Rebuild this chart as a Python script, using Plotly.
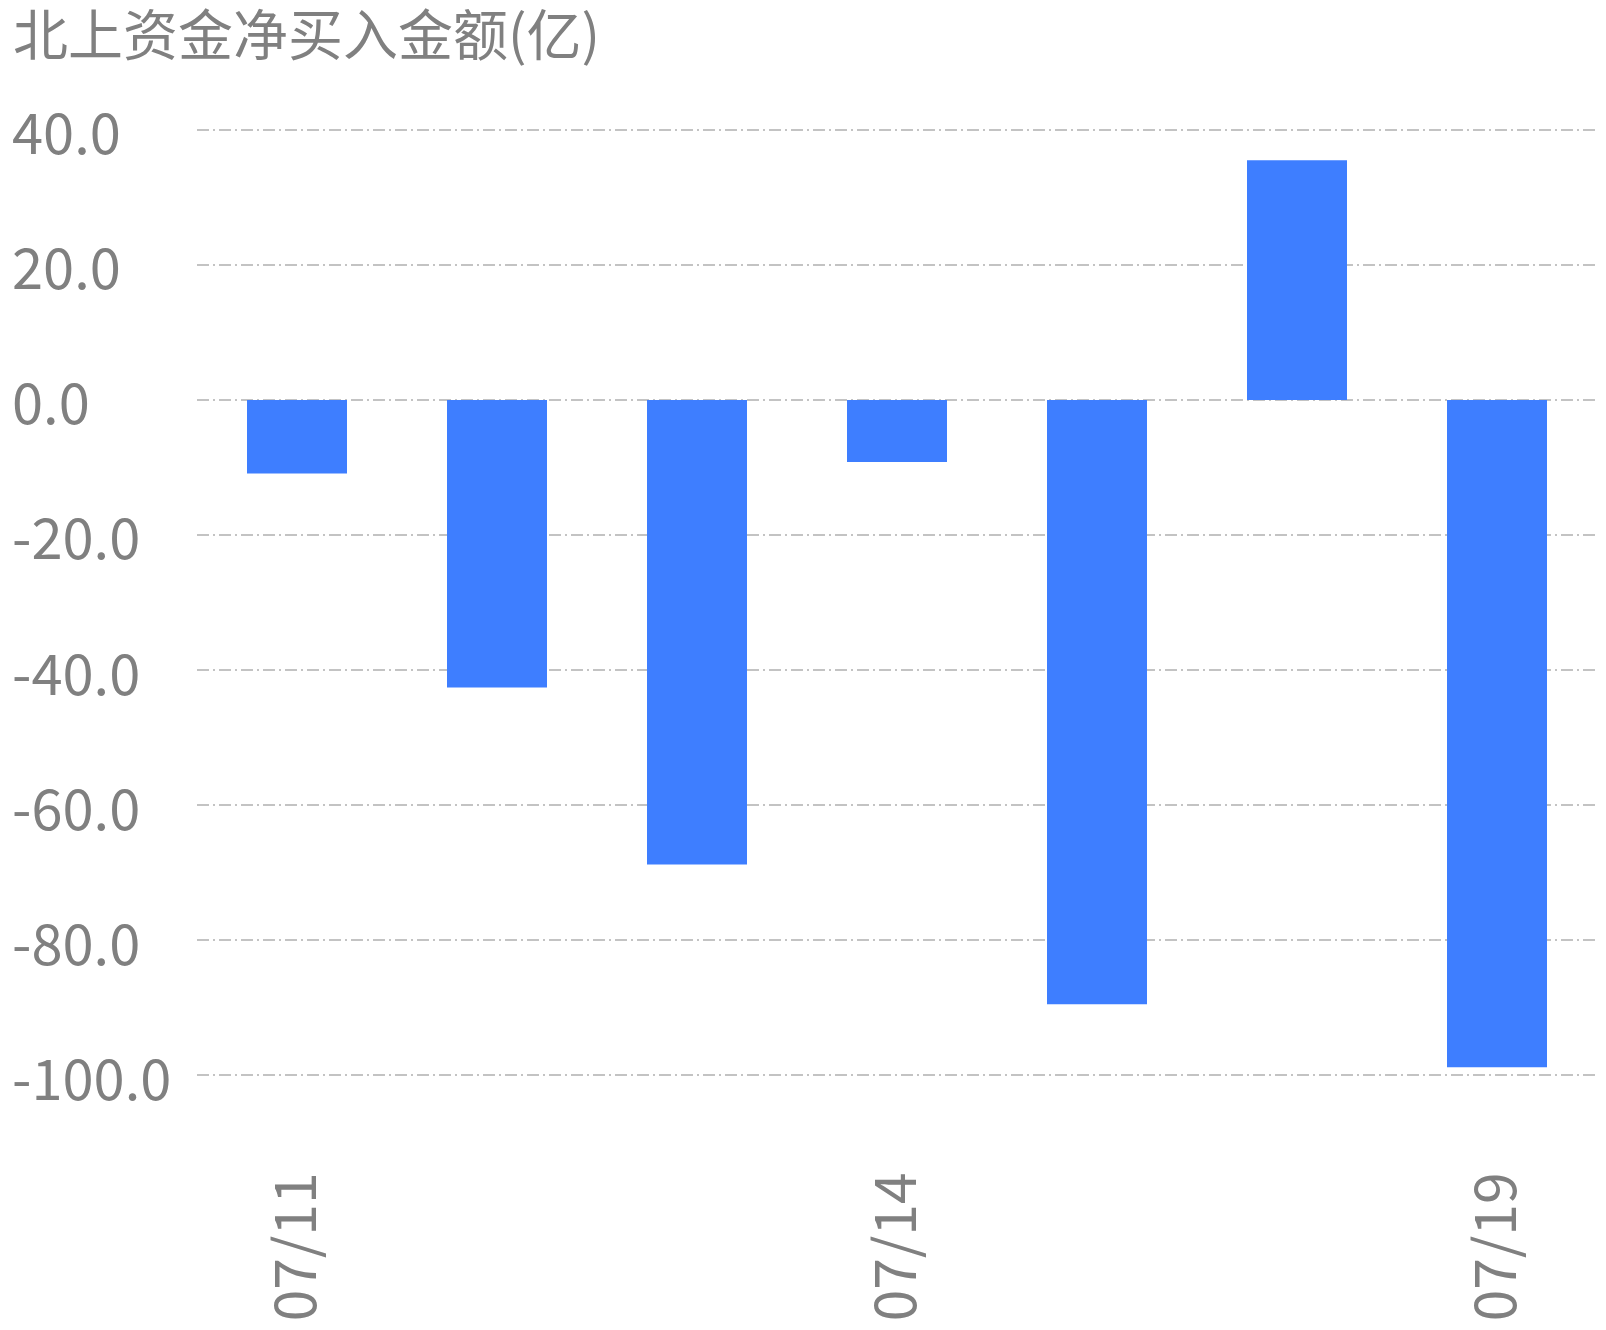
import plotly.graph_objects as go

dates = ['07/11', '07/12', '07/13', '07/14', '07/15', '07/18', '07/19']
net_buy = [-10.9, -42.6, -68.8, -9.2, -89.5, 35.5, -98.8]

shown_dates = ['07/11', '07/14', '07/19']
y_ticks = [40, 20, 0, -20, -40, -60, -80, -100]

font_family = 'Noto Sans CJK SC'
text_color = '#808080'

fig = go.Figure(go.Bar(
    x=dates,
    y=net_buy,
    marker_color='#3e7eff',
    marker_line_width=0,
))

# left-aligned y labels like the original
for v in y_ticks:
    fig.add_annotation(
        x=-0.1336, xref='paper', xanchor='left',
        y=v, yref='y', yanchor='middle',
        text=f'{v:.1f}', showarrow=False,
        font=dict(family=font_family, size=56, color=text_color),
    )

# page body adds an 8px margin, so the figure is kept inside the window
fig.update_layout(
    width=1590, height=1314,
    margin=dict(l=189, r=1, t=115, b=233),
    paper_bgcolor='white', plot_bgcolor='white',
    bargap=0.5,
    showlegend=False,
    title=dict(
        text='北上资金净买入金额(亿)',
        x=5 / 1590, xanchor='left', xref='container',
        y=1 - 28 / 1314, yanchor='middle', yref='container',
        font=dict(family=font_family, size=55, color=text_color),
    ),
    font=dict(family=font_family, color=text_color),
)

fig.update_xaxes(
    type='category',
    tickmode='array', tickvals=shown_dates, ticktext=shown_dates,
    tickangle=-90, ticks='', showgrid=False, showline=False, zeroline=False,
    ticklabelstandoff=78,
    tickfont=dict(family=font_family, size=57, color=text_color),
)
fig.update_yaxes(
    range=[-101, 41],
    tickmode='array', tickvals=y_ticks, showticklabels=False,
    showgrid=True, gridcolor='#c3c3c3', gridwidth=2,
    griddash='12px,4px,2px,4px',
    zeroline=False, showline=False, ticks='',
)

fig.write_html('out.html')
